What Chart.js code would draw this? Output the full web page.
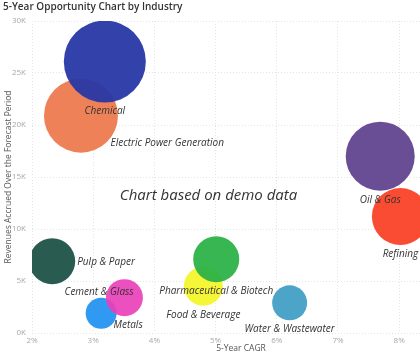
<!DOCTYPE html>
<html>
<head>
<meta charset="utf-8">
<script src="https://cdn.jsdelivr.net/npm/chart.js@4/dist/chart.umd.min.js"></script>
<style>
html,body{margin:0;padding:0;background:#fff;overflow:hidden;}
#wrap{width:420px;height:356px;position:relative;}
</style>
</head>
<body>
<div id="wrap"><canvas id="c" width="420" height="356"></canvas></div>
<script>
// ---- data ----
const industries = ["Chemical","Electric Power Generation","Oil & Gas","Refining","Pulp & Paper","Pharmaceutical & Biotech","Food & Beverage","Cement & Glass","Metals","Water & Wastewater"];
const cagr       = [3.19, 2.80, 7.69, 8.02, 2.33, 5.01, 4.80, 3.51, 3.13, 6.21];   // 5-Year CAGR, %
const revenueK   = [26.1, 20.9, 17.0, 11.2, 6.9, 7.1, 4.5, 3.4, 1.9, 2.9];       // revenues, thousands
const bubbleSize = [41, 37, 34.5, 28.5, 23, 23, 19.5, 18.5, 15.5, 17.5];          // bubble radius
const xTicks = [2,3,4,5,6,7,8];
const yTicks = [0,5,10,15,20,25,30];

// ---- styles ----
const colors = ["rgba(40,56,166,0.95)","rgba(236,112,64,0.88)","rgba(100,72,146,0.97)","rgba(250,66,40,0.95)",
                "rgba(35,86,75,0.97)","rgba(44,178,72,0.95)","rgba(242,244,20,0.85)","rgba(234,64,184,0.92)",
                "rgba(30,144,240,0.92)","rgba(66,160,198,0.95)"];
const placement = ["below","se","below","below","right","below","below","sw","se","below"];

const datasets = industries.map((name,i)=>({
  label: name,
  data: [{x: cagr[i], y: revenueK[i], r: bubbleSize[i]}],
  backgroundColor: colors[i],
  borderWidth: 0,
  hoverBorderWidth: 0
}));

const FONT = "'Open Sans','Noto Sans',sans-serif";

const labelPlugin = {
  id: 'labels',
  afterDatasetsDraw(chart){
    const ctx = chart.ctx;
    ctx.save();
    ctx.font = "italic 10px " + FONT;
    ctx.fillStyle = "#333";
    ctx.textBaseline = "middle";
    chart.data.datasets.forEach((ds,i)=>{
      const el = chart.getDatasetMeta(i).data[0];
      const cx = el.x, cy = el.y, r = el.options.radius;
      const p = placement[i];
      if (p === 'below'){ ctx.textAlign='center'; ctx.fillText(ds.label, cx, cy + r + 9); }
      else if (p === 'right'){ ctx.textAlign='left'; ctx.fillText(ds.label, cx + r + 2, cy + 1); }
      else if (p === 'se'){ ctx.textAlign='left'; ctx.fillText(ds.label, cx + 0.8*r, cy + 0.75*r); }
      else if (p === 'sw'){ ctx.textAlign='right'; ctx.fillText(ds.label, cx + 0.5*r, cy - 0.3*r); }
    });
    const a = chart.chartArea;
    ctx.font = "italic 15px " + FONT;
    ctx.textAlign = 'center';
    ctx.fillStyle = "#333";
    ctx.fillText("Chart based on demo data", a.left + (a.right-a.left)*0.455, a.top + (a.bottom-a.top)*0.56);
    // x axis title
    ctx.font = "8.5px " + FONT;
    ctx.fillStyle = "#555";
    ctx.fillText("5-Year CAGR", (a.left + a.right)/2 + 15, chart.height - 7);
    ctx.restore();
  }
};

new Chart(document.getElementById('c'), {
  type: 'bubble',
  data: { datasets },
  options: {
    responsive: false,
    animation: false,
    events: [],
    layout: { autoPadding: false, padding: { left: 3, right: 0, top: 0, bottom: 0 } },
    plugins: {
      legend: { display: false },
      tooltip: { enabled: false },
      title: {
        display: true, text: "5-Year Opportunity Chart by Industry", align: 'start',
        color: "#333", font: { family: FONT, size: 10, weight: '600' },
        padding: { top: 1, bottom: 8 }
      }
    },
    scales: {
      x: {
        type: 'linear', min: 2, max: 8.34,
        afterBuildTicks(s){ s.ticks = xTicks.map(v=>({value:v})); },
        afterFit(s){ s.height = 23; },
        ticks: { color: "#a8a8a8", font: { family: FONT, size: 8 }, padding: 3, callback: v => v + "%" },
        grid: { color: "#e4e4e4", drawTicks: false, lineWidth: 1 },
        border: { display: false, dash: [1,2] },
        title: { display: false }
      },
      y: {
        type: 'linear', min: 0, max: 30,
        afterBuildTicks(s){ s.ticks = yTicks.map(v=>({value:v})); },
        afterFit(s){ s.width = 29; },
        ticks: { color: "#a8a8a8", font: { family: FONT, size: 8 }, padding: 6, callback: v => v + "K" },
        grid: { color: "#e4e4e4", drawTicks: false, lineWidth: 1 },
        border: { display: false, dash: [1,2] },
        title: { display: true, text: "Revenues Accrued Over the Forecast Period", color: "#555", font: { family: FONT, size: 8.5 }, padding: { top: 0, bottom: 0 } }
      }
    }
  },
  plugins: [labelPlugin]
});
</script>
</body>
</html>
